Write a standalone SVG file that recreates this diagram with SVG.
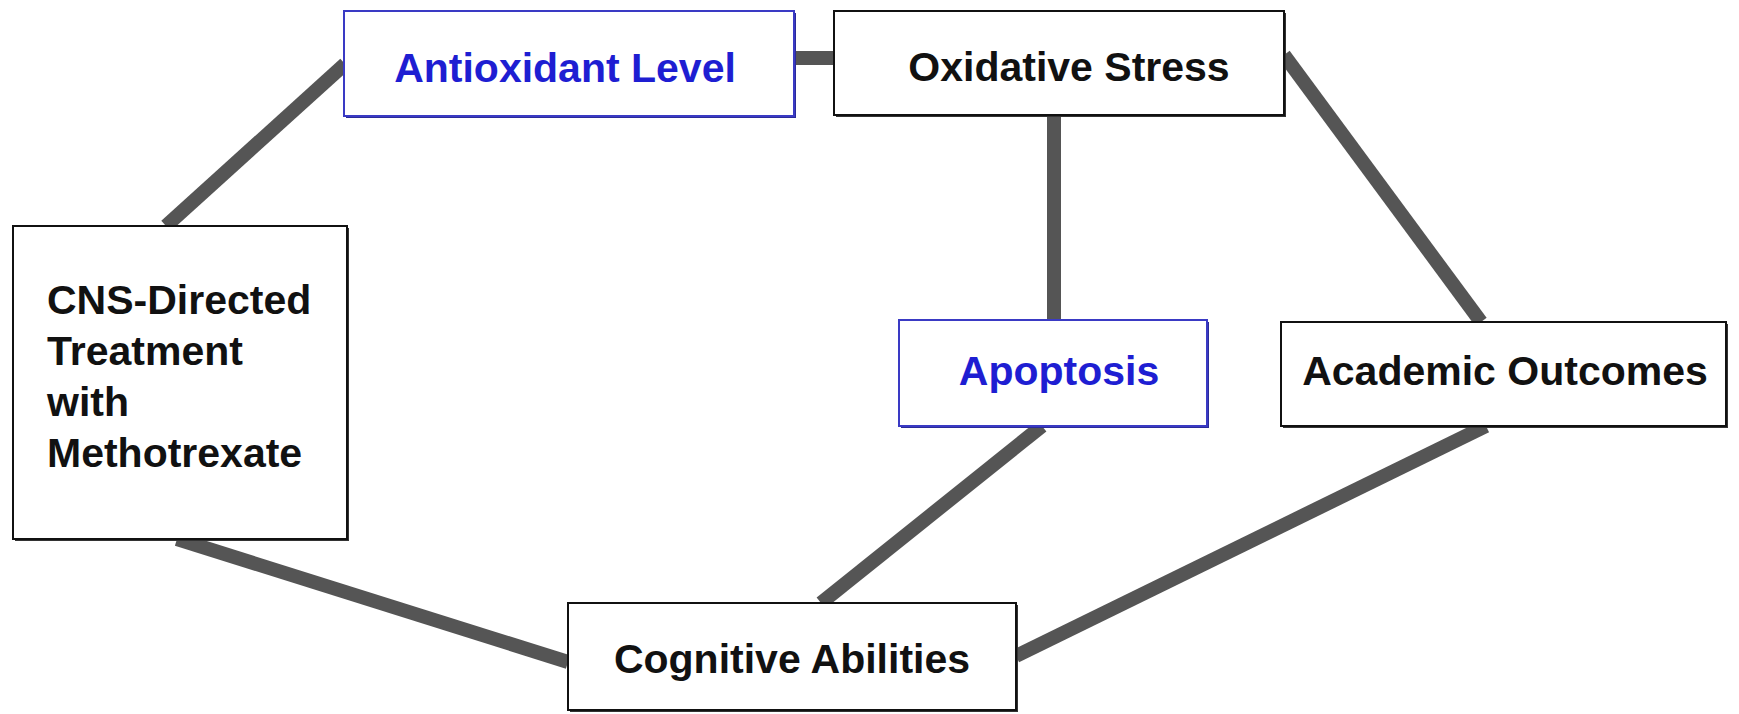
<svg xmlns="http://www.w3.org/2000/svg" width="1739" height="714" viewBox="0 0 1739 714">
<style>
.edge{stroke:#555;stroke-width:14;fill:none;stroke-linecap:butt}
.box{fill:#fff;stroke:#111;stroke-width:2}
.bbox{fill:#fff;stroke:#3a3ac4;stroke-width:2}
.sh{fill:#333}
.bsh{fill:#2a2a9a}
.t{font-family:"Liberation Sans",Arial,sans-serif;font-weight:bold;font-size:41px;fill:#111}
.bt{font-family:"Liberation Sans",Arial,sans-serif;font-weight:bold;font-size:41px;fill:#1e1ed2}
</style>
<rect width="1739" height="714" fill="#fff"/>
<g id="connectors">
<line class="edge" x1="345" y1="64" x2="166" y2="226"/>
<line class="edge" x1="794" y1="58" x2="834" y2="58"/>
<line class="edge" x1="1054" y1="115" x2="1054" y2="320"/>
<line class="edge" x1="1284" y1="55" x2="1481" y2="322"/>
<line class="edge" x1="1042" y1="426" x2="821" y2="603"/>
<line class="edge" x1="1486" y1="426" x2="1016" y2="656"/>
<line class="edge" x1="177" y1="539" x2="568" y2="662"/>
</g>
<g id="antioxidant">
<rect class="bsh" x="346" y="13" width="450" height="105"/>
<rect class="bbox" x="344" y="11" width="450" height="105"/>
<text class="bt" x="565" y="82" text-anchor="middle">Antioxidant Level</text>
</g>
<g id="oxidative">
<rect class="sh" x="836" y="13" width="450" height="104"/>
<rect class="box" x="834" y="11" width="450" height="104"/>
<text class="t" x="1069" y="81" text-anchor="middle">Oxidative Stress</text>
</g>
<g id="cns">
<rect class="sh" x="15" y="228" width="334" height="313"/>
<rect class="box" x="13" y="226" width="334" height="313"/>
<text class="t" x="47" y="314">CNS-Directed</text>
<text class="t" x="47" y="365">Treatment</text>
<text class="t" x="47" y="416">with</text>
<text class="t" x="47" y="467">Methotrexate</text>
</g>
<g id="apoptosis">
<rect class="bsh" x="901" y="322" width="308" height="106"/>
<rect class="bbox" x="899" y="320" width="308" height="106"/>
<text class="bt" x="1059" y="385" text-anchor="middle">Apoptosis</text>
</g>
<g id="academic">
<rect class="sh" x="1283" y="324" width="445" height="104"/>
<rect class="box" x="1281" y="322" width="445" height="104"/>
<text class="t" x="1505" y="385" text-anchor="middle">Academic Outcomes</text>
</g>
<g id="cognitive">
<rect class="sh" x="570" y="605" width="448" height="107"/>
<rect class="box" x="568" y="603" width="448" height="107"/>
<text class="t" x="792" y="673" text-anchor="middle">Cognitive Abilities</text>
</g>
</svg>
